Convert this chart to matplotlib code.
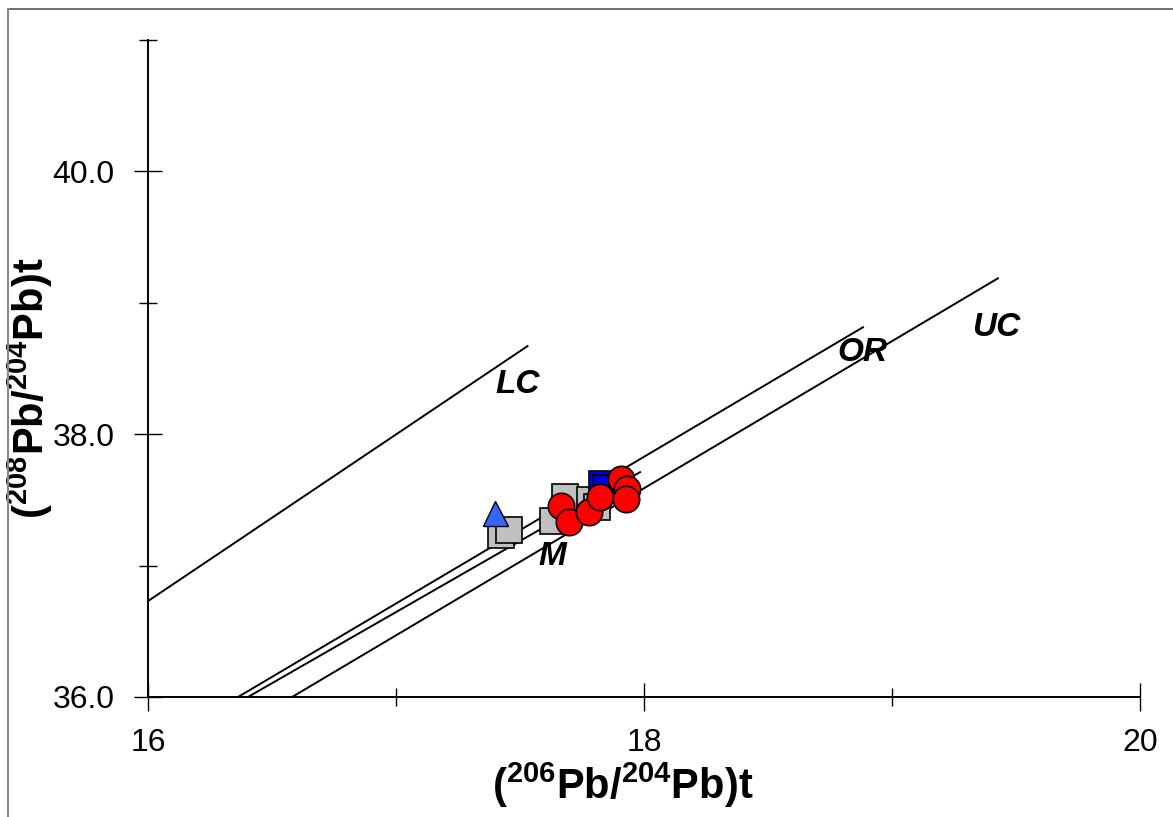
import matplotlib
matplotlib.use('Agg')
import matplotlib.pyplot as plt
from matplotlib.lines import Line2D

plt.rcParams['font.family'] = ['Liberation Sans', 'DejaVu Sans']
plt.rcParams['mathtext.fontset'] = 'custom'
plt.rcParams['mathtext.rm'] = 'Liberation Sans'
plt.rcParams['mathtext.bf'] = 'Liberation Sans:bold'

# reference lines (start / end in data units)
ref_names = ['LC', 'OR', 'M', 'UC']
ref_x = [[16.0, 17.53], [16.363, 18.883], [16.403, 17.984], [16.581, 19.427]]
ref_y = [[36.73, 38.67], [36.0, 38.814], [36.0, 37.711], [36.0, 39.186]]
label_x = [17.49, 18.88, 17.63, 19.42]
label_y = [38.38, 38.62, 37.07, 38.81]

# samples
tri_x = [17.399]
tri_y = [37.40]
sq_x = [17.423, 17.456, 17.633, 17.68, 17.782, 17.81]
sq_y = [37.23, 37.27, 37.34, 37.52, 37.50, 37.445]
bsq_x = [17.831, 17.845]
bsq_y = [37.62, 37.59]
circ_x = [17.665, 17.698, 17.78, 17.823, 17.907, 17.93, 17.927]
circ_y = [37.45, 37.33, 37.41, 37.52, 37.66, 37.58, 37.506]

fig = plt.figure(figsize=(11.73, 8.17), dpi=100)
ax = fig.add_axes([0.1262, 0.1469, 0.8457, 0.8042])

for xs, ys in zip(ref_x, ref_y):
    ax.plot(xs, ys, color='black', lw=1.4, zorder=2)
for name, lx, ly in zip(ref_names, label_x, label_y):
    ax.text(lx, ly, name, fontsize=24, fontweight='bold', fontstyle='italic',
            ha='center', va='center', zorder=5)

ax.plot(sq_x, sq_y, 's', ms=18.5, mfc='#c0c0c0', mec='black', mew=1.2, ls='none', zorder=3)
ax.plot(tri_x, tri_y, '^', ms=18, mfc='#3366ff', mec='black', mew=1.0, ls='none', zorder=3)
ax.plot(bsq_x, bsq_y, 's', ms=18.5, mfc='#0000dd', mec='black', mew=1.2, ls='none', zorder=3)
ax.plot(circ_x, circ_y, 'o', ms=19, mfc='#ff0000', mec='black', mew=1.2, ls='none', zorder=4)

ax.set_xlim(16, 20)
ax.set_ylim(36, 41)
ax.set_xticks([16, 18, 20])
ax.set_xticks([17, 19], minor=True)
ax.set_yticks([36, 38, 40])
ax.set_yticklabels(['36.0', '38.0', '40.0'])
ax.set_yticks([37, 39, 41], minor=True)
ax.tick_params(which='major', direction='inout', length=20, width=1.0, labelsize=23, pad=6)
ax.tick_params(which='minor', direction='inout', length=13, width=1.0)
ax.tick_params(axis='x', which='major', pad=12)
ax.tick_params(axis='y', which='major', pad=14)

for s in ['top', 'right']:
    ax.spines[s].set_visible(False)
for s in ['left', 'bottom']:
    ax.spines[s].set_linewidth(1.4)

ax.set_xlabel(r'$\mathbf{(^{206}Pb/^{204}Pb)t}$', fontsize=30)
ax.set_ylabel(r'$\mathbf{(^{208}Pb/^{204}Pb)t}$', fontsize=30)
ax.xaxis.set_label_coords(0.478, -0.097)
ax.yaxis.set_label_coords(-0.094, 0.47)

# chart frame
fig.add_artist(Line2D([0.0068, 1.0], [0.989, 0.989], color='#555555', lw=1.2))
fig.add_artist(Line2D([0.0068, 0.0068], [0.0, 0.989], color='#888888', lw=1.5))

fig.savefig('out.png', dpi=100)
